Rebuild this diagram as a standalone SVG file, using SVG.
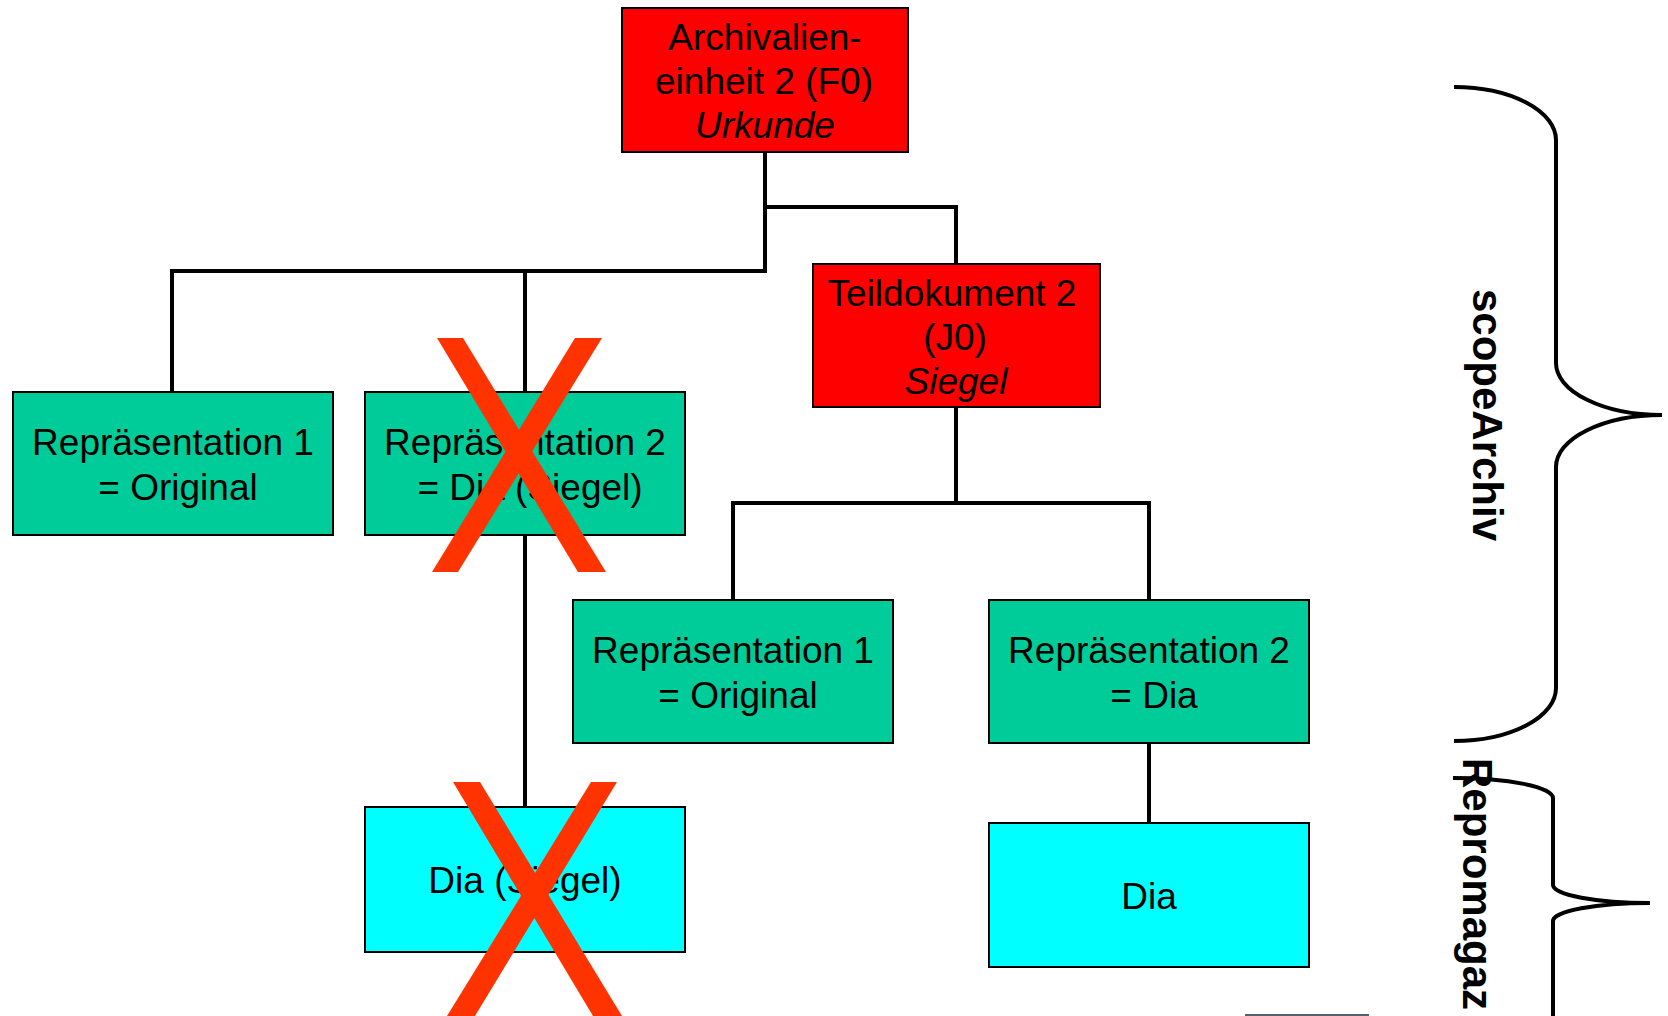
<svg xmlns="http://www.w3.org/2000/svg" width="1668" height="1016" viewBox="0 0 1668 1016">
<style>
.red{fill:#FF0000;stroke:#000;stroke-width:2}
.grn{fill:#00CC99;stroke:#000;stroke-width:2}
.cyn{fill:#00FFFF;stroke:#000;stroke-width:2}
.t{font-family:"Liberation Sans",Arial,sans-serif;font-size:37px;fill:#000;text-anchor:middle}
.it{font-style:italic}
.conn{fill:none;stroke:#000;stroke-width:4}
.brace{fill:none;stroke:#000;stroke-width:4}
.bt{font-family:"Liberation Sans",Arial,sans-serif;font-size:42px;font-weight:bold;fill:#000}
.x{fill:#FF3300}
</style>
<rect width="1668" height="1016" fill="#fff"/>
<g id="connectors">
<path class="conn" d="M765,152 V271 H172 V391"/>
<path class="conn" d="M525,271 V391"/>
<path class="conn" d="M765,207 H956 V264"/>
<path class="conn" d="M525,535 V807"/>
<path class="conn" d="M956,407 V503"/>
<path class="conn" d="M733,600 V503 H1149 V600"/>
<path class="conn" d="M1149,743 V823"/>
</g>
<g id="n-archivalien">
<rect class="red" x="622" y="8" width="286" height="144"/>
<text class="t" x="765" y="50">Archivalien-</text>
<text class="t" x="764" y="94">einheit 2 (F0)</text>
<text class="t it" x="765" y="138">Urkunde</text>
</g>
<g id="n-teildokument">
<rect class="red" x="813" y="264" width="287" height="143"/>
<text class="t" x="952" y="306">Teildokument 2</text>
<text class="t" x="955" y="350">(J0)</text>
<text class="t it" x="956" y="394">Siegel</text>
</g>
<g id="n-rep1">
<rect class="grn" x="13" y="392" width="320" height="143"/>
<text class="t" x="173" y="455">Repräsentation 1</text>
<text class="t" x="178" y="500">= Original</text>
</g>
<g id="n-rep2">
<rect class="grn" x="365" y="392" width="320" height="143"/>
<text class="t" x="525" y="455">Repräsentation 2</text>
<text class="t" x="530" y="500">= Dia (Siegel)</text>
</g>
<g id="n-rep1b">
<rect class="grn" x="573" y="600" width="320" height="143"/>
<text class="t" x="733" y="663">Repräsentation 1</text>
<text class="t" x="738" y="708">= Original</text>
</g>
<g id="n-rep2b">
<rect class="grn" x="989" y="600" width="320" height="143"/>
<text class="t" x="1149" y="663">Repräsentation 2</text>
<text class="t" x="1154" y="708">= Dia</text>
</g>
<g id="n-dia-siegel">
<rect class="cyn" x="365" y="807" width="320" height="145"/>
<text class="t" x="525" y="893">Dia (Siegel)</text>
</g>
<g id="n-dia">
<rect class="cyn" x="989" y="823" width="320" height="144"/>
<text class="t" x="1149" y="909">Dia</text>
</g>
<g id="cross1">
<polygon class="x" points="437,338 463,338 606,572 578,572"/>
<polygon class="x" points="575,338 602,338 458,572 432,572"/>
</g>
<g id="cross2">
<polygon class="x" points="453,782 480,782 622,1016 593,1016"/>
<polygon class="x" points="591,782 617,782 475,1016 447,1016"/>
</g>
<g id="brace-scopeArchiv">
<path class="brace" d="M1454,87 A102,53 0 0 1 1556,140 V363 A106,52 0 0 0 1662,415 A106,52 0 0 0 1556,467 V688 A102,53 0 0 1 1454,741"/>
<text class="bt" text-anchor="middle" transform="translate(1473,415) rotate(90)">scopeArchiv</text>
</g>
<g id="brace-repromagazin">
<path class="brace" d="M1453,778 A100,20 0 0 1 1553,798 V885 A97,18 0 0 0 1650,903 A97,18 0 0 0 1553,921 V1020"/>
<text class="bt" transform="translate(1463,758) rotate(90)">Repromagaz</text>
</g>
<rect x="1245" y="1014" width="124" height="2" fill="#56606a"/>
</svg>
